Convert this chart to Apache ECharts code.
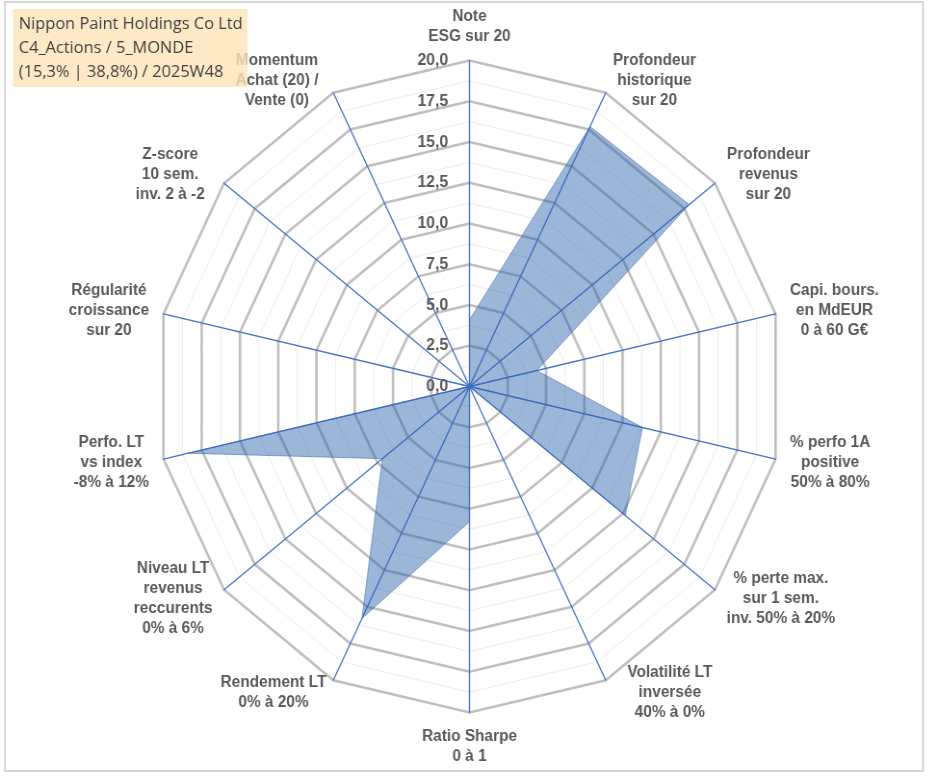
<!DOCTYPE html>
<html><head><meta charset="utf-8">
<script src="https://cdn.jsdelivr.net/npm/echarts@6/dist/echarts.min.js"></script>
<style>
html,body{margin:0;padding:0;background:#fff;overflow:hidden;width:933px;height:776px}
#c{height:776px;transform-origin:0 0}
</style>
</head><body><div id="c"></div>
<script>
// ---- data (clockwise from top, as in the reference) ----
const indicatorNames = [
  'Note\nESG sur 20',
  'Profondeur\nhistorique\nsur 20',
  'Profondeur\nrevenus\nsur 20',
  'Capi. bours.\nen MdEUR\n0 à 60 G€',
  '% perfo 1A\npositive\n50% à 80%',
  '% perte max.\nsur 1 sem.\ninv. 50% à 20%',
  'Volatilité LT\ninversée\n40% à 0%',
  'Ratio Sharpe\n0 à 1',
  'Rendement LT\n0% à 20%',
  'Niveau LT\nrevenus\nreccurents\n0% à 6%',
  'Perfo. LT\nvs index\n-8% à 12%',
  'Régularité\ncroissance\nsur 20',
  'Z-score\n10 sem.\ninv. 2 à -2',
  'Momentum\nAchat (20) /\nVente (0)'
];
const scores = [4.1, 17.7, 17.9, 4.4, 11.3, 12.7, 0, 8.3, 15.8, 7.1, 18.4, 0, 0, 0];
const tickLabels = ['0,0', '2,5', '5,0', '7,5', '10,0', '12,5', '15,0', '17,5', '20,0'];
const titleLines = ['Nippon Paint Holdings Co Ltd', 'C4_Actions / 5_MONDE', '(15,3% | 38,8%) / 2025W48'];
const axisMin = 0, axisMax = 20;

// ---- layout / style ----
const SX = 0.963;                 // the reference plot is slightly narrower than tall
const W = 933, H = 776;
const el = document.getElementById('c');
el.style.width = (W / SX) + 'px';
el.style.transform = 'scaleX(' + SX + ')';
const nameFontSize = 16;
const NAME_FONT = 'bold ' + nameFontSize + 'px "Liberation Sans"';
const nameColor = '#595959';
// horizontal nudges of some axis names (left, right padding), by original index
const namePad = { 6: [15, 0], 12: [0, 8], 13: [0, 8] };

// ECharts radar runs counter-clockwise; reorder so the picture runs clockwise
const n = indicatorNames.length;
const order = [];
for (let k = 0; k < n; k++) order.push((n - k) % n);

const cvs = document.createElement('canvas').getContext('2d');
cvs.font = NAME_FONT;
const rich = {};
order.forEach(function (orig, k) {
  const lines = indicatorNames[orig].split('\n');
  let w = 0;
  lines.forEach(function (l) { w = Math.max(w, cvs.measureText(l).width); });
  const p = namePad[orig] || [0, 0];
  rich['n' + k] = {
    width: Math.ceil(w) + 2, align: 'center', padding: [0, p[1], 0, p[0]],
    fontFamily: 'Liberation Sans', fontWeight: 'bold', fontSize: nameFontSize,
    lineHeight: 20, color: nameColor
  };
});

function indicatorsFor(withLabels) {
  return order.map(function (orig, k) {
    return { name: indicatorNames[orig], min: axisMin, max: axisMax,
             axisLabel: { show: withLabels && k === 0 } };
  });
}

const chart = echarts.init(el, null, { renderer: 'canvas' });
const center = [469.5 / SX, 386.5];
const radius = 326;

chart.setOption({
  animation: false,
  title: {
    text: titleLines.join('\n'),
    left: 13 / SX, top: 9,
    backgroundColor: 'rgba(252,228,184,0.82)',
    padding: [3, 5, 3, 6],
    textStyle: { fontFamily: 'Open Sans', fontWeight: 'normal', fontSize: 17, lineHeight: 24, color: '#404040' }
  },
  graphic: [{
    type: 'rect', silent: true, z: -10,
    shape: { x: 5 / SX, y: 2, width: 918 / SX, height: 769 },
    style: { fill: 'none', stroke: '#c9c9c9', lineWidth: 1.5 }
  }],
  radar: [
    {
      center: center, radius: radius, shape: 'polygon', splitNumber: 16,
      indicator: indicatorsFor(false),
      axisName: { show: false },
      axisLine: { show: false },
      axisTick: { show: false },
      axisLabel: { show: false },
      splitArea: { show: false },
      splitLine: { lineStyle: { color: '#ebebeb', width: 1 } }
    },
    {
      center: center, radius: radius, shape: 'polygon', splitNumber: 8,
      indicator: indicatorsFor(true),
      nameGap: 14,
      axisName: {
        formatter: function (name) {
          const kk = order.indexOf(indicatorNames.indexOf(name));
          return name.split('\n').map(function (l) { return '{n' + kk + '|' + l + '}'; }).join('\n');
        },
        rich: rich,
        color: nameColor, fontFamily: 'Liberation Sans', fontWeight: 'bold', fontSize: nameFontSize, lineHeight: 20
      },
      axisLine: { lineStyle: { color: '#4472C4', width: 1.3 } },
      axisTick: { show: false },
      axisLabel: {
        show: true, margin: 22,
        formatter: function (v) { return tickLabels[Math.round((v - axisMin) / 2.5)]; },
        color: nameColor, fontFamily: 'Liberation Sans', fontWeight: 'bold', fontSize: 16.5
      },
      splitArea: { show: false },
      splitLine: { lineStyle: { color: '#bfbfbf', width: 2.6 } }
    }
  ],
  series: [{
    type: 'radar', radarIndex: 1, symbol: 'none',
    lineStyle: { color: 'rgba(68,114,196,0.7)', width: 0.8 },
    areaStyle: { color: 'rgba(40,98,170,0.66)' },
    data: [{ value: order.map(function (orig) { return scores[orig]; }), name: titleLines[0] }]
  }]
});
</script></body></html>
